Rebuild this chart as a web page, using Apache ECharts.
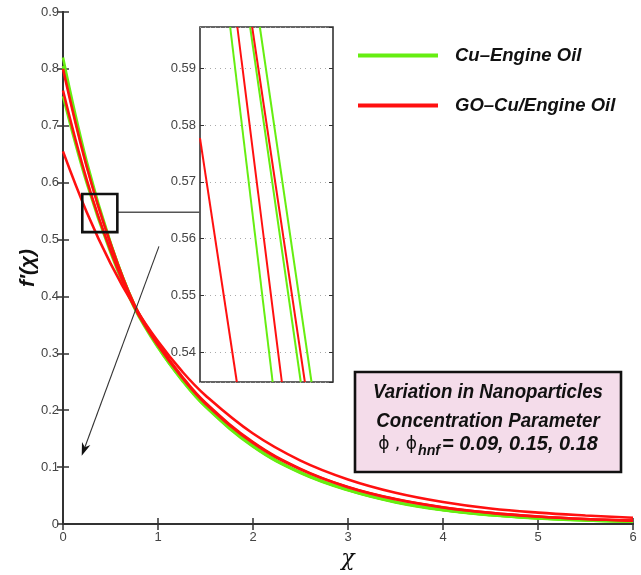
<!DOCTYPE html>
<html>
<head>
<meta charset="utf-8">
<script src="https://cdn.jsdelivr.net/npm/echarts@6/dist/echarts.min.js"></script>
<style>
html,body{margin:0;padding:0;background:#fff;}
#chart{width:641px;height:575px;}
</style>
</head>
<body>
<div id="chart"></div>
<script>
// ---------- data ----------
const chi = [0, 0.25, 0.5, 0.75, 1, 1.25, 1.5, 2, 2.5, 3, 3.5, 4, 4.5, 5, 5.5, 6];
const cuOil1 = [0.820, 0.637, 0.495, 0.385, 0.311, 0.253, 0.206, 0.136, 0.0897, 0.0592, 0.038, 0.0242, 0.0154, 0.0098, 0.0063, 0.004];
const cuOil2 = [0.805, 0.630, 0.493, 0.386, 0.313, 0.255, 0.208, 0.138, 0.091, 0.060, 0.0388, 0.0248, 0.0158, 0.0101, 0.0065, 0.0042];
const cuOil3 = [0.752, 0.599, 0.477, 0.380, 0.310, 0.254, 0.207, 0.137, 0.0905, 0.0598, 0.0386, 0.0246, 0.0157, 0.0100, 0.0064, 0.0041];
const goCu1 = [0.800, 0.628, 0.493, 0.386, 0.317, 0.260, 0.213, 0.144, 0.097, 0.065, 0.0438, 0.0294, 0.0197, 0.0132, 0.0088, 0.006];
const goCu2 = [0.762, 0.605, 0.481, 0.382, 0.314, 0.258, 0.2115, 0.1425, 0.096, 0.0647, 0.0434, 0.0291, 0.0195, 0.0131, 0.0087, 0.006];
const goCu3 = [0.655, 0.548, 0.458, 0.383, 0.321, 0.269, 0.226, 0.159, 0.1115, 0.0784, 0.055, 0.0387, 0.0272, 0.020, 0.015, 0.011];

// zoomed inset (magnified segments)
const insetY = [0.5973, 0.5347];
const insetCu1X = [0.417, 0.518];
const insetCu2X = [0.398, 0.497];
const insetCu3X = [0.359, 0.442];
const insetGo1X = [0.402, 0.505];
const insetGo2X = [0.373, 0.460];
const insetGo3X = [0.300, 0.372];
const insetGo3Y = [0.5777, 0.5347];

const xTicks = [0, 1, 2, 3, 4, 5, 6];
const yTicks = [0, 0.1, 0.2, 0.3, 0.4, 0.5, 0.6, 0.7, 0.8, 0.9];
const insetYTicks = [0.54, 0.55, 0.56, 0.57, 0.58, 0.59];

const nameCu = 'Cu\u2013Engine Oil';
const nameGo = 'GO\u2013Cu/Engine Oil';

// zoom box / arrow in data coordinates
const zoomBox = { x0: 0.203, x1: 0.572, y0: 0.513, y1: 0.580 };
const connectorY = 0.548;
const arrowFrom = [1.01, 0.488];
const arrowTo = [0.197, 0.120];

// ---------- styling ----------
const GREEN = '#66ee11';
const RED = '#ff1010';
const FONT = '"Liberation Sans", Arial, sans-serif';
const pair = (xs, ys) => xs.map((x, i) => [x, ys[i]]);

const mainLine = (name, color, data) => ({
  name, type: 'line', xAxisIndex: 0, yAxisIndex: 0, data: pair(chi, data),
  smooth: 0.4, showSymbol: false, symbol: 'none', color,
  lineStyle: { color, width: 2.6 }, silent: true, animation: false
});
const insetLine = (name, color, xs, ys) => ({
  name, type: 'line', xAxisIndex: 2, yAxisIndex: 2, data: pair(xs, ys),
  showSymbol: false, symbol: 'none', color, z: 6,
  lineStyle: { color, width: 2 }, silent: true, animation: false
});

const tickLabel = { fontFamily: FONT, fontSize: 13, color: '#444' };
const axisLineStyle = { lineStyle: { color: '#333', width: 2 } };

const chart = echarts.init(document.getElementById('chart'), null, { renderer: 'canvas' });

const option = {
  animation: false,
  backgroundColor: '#fff',
  grid: [
    { left: 63, top: 12, width: 570, height: 515 },
    { left: 200, top: 27, width: 133, height: 355, show: true, backgroundColor: '#fff', borderColor: '#333', borderWidth: 1.6 }
  ],
  legend: {
    data: [nameCu, nameGo], orient: 'vertical', left: 353, top: 41,
    itemWidth: 80, itemHeight: 4, itemGap: 31, icon: 'rect', selectedMode: false,
    textStyle: { fontFamily: FONT, fontSize: 18.5, fontWeight: 'bold', fontStyle: 'italic', color: '#111', padding: [0, 0, 0, 12] }
  },
  xAxis: [
    { type: 'value', gridIndex: 0, min: 0, max: 6, interval: 1,
      name: '\u03c7', nameLocation: 'middle', nameGap: 24, nameMoveOverlap: false,
      nameTextStyle: { fontFamily: 'DejaVu Serif, serif', fontStyle: 'italic', fontSize: 22, color: '#111' },
      axisLine: axisLineStyle, axisTick: { inside: true, length: 6, lineStyle: { color: '#333', width: 1.5 } },
      axisLabel: Object.assign({ margin: 7 }, tickLabel), splitLine: { show: false } },
    { type: 'value', gridIndex: 0, min: 0, max: 6, interval: 1, position: 'top',
      axisLine: axisLineStyle, axisTick: { inside: true, length: 6, lineStyle: { color: '#333', width: 1.5 } },
      axisLabel: { show: false }, splitLine: { show: false } },
    { type: 'value', gridIndex: 1, min: 0.30, max: 0.56, show: false }
  ],
  yAxis: [
    { type: 'value', gridIndex: 0, min: 0, max: 0.9, interval: 0.1,
      name: 'f\u2032(\u03c7)', nameLocation: 'middle', nameGap: 24, nameRotate: 90, nameMoveOverlap: false,
      nameTextStyle: { fontFamily: FONT, fontStyle: 'italic', fontWeight: 'bold', fontSize: 21, color: '#111' },
      axisLine: axisLineStyle, axisTick: { inside: true, length: 6, lineStyle: { color: '#333', width: 1.5 } },
      axisLabel: Object.assign({ margin: 4 }, tickLabel), splitLine: { show: false } },
    { type: 'value', gridIndex: 0, min: 0, max: 0.9, interval: 0.1, position: 'right',
      axisLine: axisLineStyle, axisTick: { inside: true, length: 6, lineStyle: { color: '#333', width: 1.5 } },
      axisLabel: { show: false }, splitLine: { show: false } },
    { type: 'value', gridIndex: 1, min: insetY[1], max: insetY[0], splitNumber: 6, z: 4,
      axisLine: { show: false }, axisTick: { inside: true, length: 4, lineStyle: { color: '#333' } },
      axisLabel: Object.assign({ margin: 4, showMinLabel: false, showMaxLabel: false,
        formatter: v => v.toFixed(2) }, tickLabel),
      splitLine: { show: true, lineStyle: { color: '#aaa', type: [1, 4], width: 1 } } },
    { type: 'value', gridIndex: 1, min: insetY[1], max: insetY[0], splitNumber: 6, position: 'right', z: 4,
      axisLine: { show: false }, axisTick: { inside: true, length: 4, lineStyle: { color: '#333' } },
      axisLabel: { show: false }, splitLine: { show: false } }
  ],
  series: [
    mainLine(nameCu, GREEN, cuOil1),
    mainLine(nameCu, GREEN, cuOil2),
    mainLine(nameCu, GREEN, cuOil3),
    mainLine(nameGo, RED, goCu1),
    mainLine(nameGo, RED, goCu2),
    mainLine(nameGo, RED, goCu3),
    insetLine(nameCu, GREEN, insetCu1X, insetY),
    insetLine(nameCu, GREEN, insetCu2X, insetY),
    insetLine(nameCu, GREEN, insetCu3X, insetY),
    insetLine(nameGo, RED, insetGo1X, insetY),
    insetLine(nameGo, RED, insetGo2X, insetY),
    insetLine(nameGo, RED, insetGo3X, insetGo3Y)
  ]
};
chart.setOption(option);

// ---------- annotations ----------
const toPx = (p) => chart.convertToPixel({ xAxisIndex: 0, yAxisIndex: 0 }, p);
const b0 = toPx([zoomBox.x0, zoomBox.y1]);
const b1 = toPx([zoomBox.x1, zoomBox.y0]);
const c0 = toPx([zoomBox.x1, connectorY]);
const insetLeft = chart.convertToPixel({ xAxisIndex: 2 }, 0.30);
const a0 = toPx(arrowFrom);
const a1 = toPx(arrowTo);
const dx = a1[0] - a0[0], dy = a1[1] - a0[1];
const len = Math.hypot(dx, dy), ux = dx / len, uy = dy / len;
const headL = 13, headW = 4.5;
const base = [a1[0] - ux * headL, a1[1] - uy * headL];
const notch = [a1[0] - ux * headL * 0.7, a1[1] - uy * headL * 0.7];

const boxFont = { fontFamily: FONT, fontSize: 21, fontWeight: 'bold', fontStyle: 'italic', fill: '#111' };
chart.setOption({
  graphic: [
    { type: 'rect', z: 20, shape: { x: b0[0], y: b0[1], width: b1[0] - b0[0], height: b1[1] - b0[1] },
      style: { fill: 'none', stroke: '#111', lineWidth: 2.6 } },
    { type: 'line', z: 19, shape: { x1: c0[0], y1: c0[1], x2: insetLeft, y2: c0[1] },
      style: { stroke: '#555', lineWidth: 1.5 } },
    { type: 'line', z: 19, shape: { x1: a0[0], y1: a0[1], x2: notch[0], y2: notch[1] },
      style: { stroke: '#333', lineWidth: 1.1 } },
    { type: 'polygon', z: 19, shape: { points: [
        a1,
        [base[0] - uy * headW, base[1] + ux * headW],
        notch,
        [base[0] + uy * headW, base[1] - ux * headW]
      ] }, style: { fill: '#111' } },
    { type: 'rect', z: 20, shape: { x: 355, y: 372, width: 266, height: 100 },
      style: { fill: '#f4dcea', stroke: '#111', lineWidth: 2.6 } },
    { type: 'text', z: 21, x: 488, y: 392, scaleX: 0.89,
      style: Object.assign({ text: 'Variation in Nanoparticles', align: 'center', verticalAlign: 'middle' }, boxFont) },
    { type: 'text', z: 21, x: 488, y: 421, scaleX: 0.89,
      style: Object.assign({ text: 'Concentration Parameter', align: 'center', verticalAlign: 'middle' }, boxFont) },
    { type: 'text', z: 21, x: 488, y: 444, scaleX: 0.95,
      style: Object.assign({
        text: '{p|\u03d5 , \u03d5}{s|hnf}{n|= 0.09, 0.15, 0.18}', align: 'center', verticalAlign: 'middle',
        rich: {
          p: { fontFamily: 'DejaVu Sans', fontSize: 18, fontWeight: 'normal', fontStyle: 'normal', fill: '#111', padding: [0, 1, 0, 0] },
          s: { fontFamily: FONT, fontSize: 15, fontWeight: 'bold', fontStyle: 'italic', fill: '#111', padding: [14, 2, 0, 0] },
          n: Object.assign({}, boxFont)
        }
      }, boxFont) }
  ]
});
</script>
</body>
</html>
